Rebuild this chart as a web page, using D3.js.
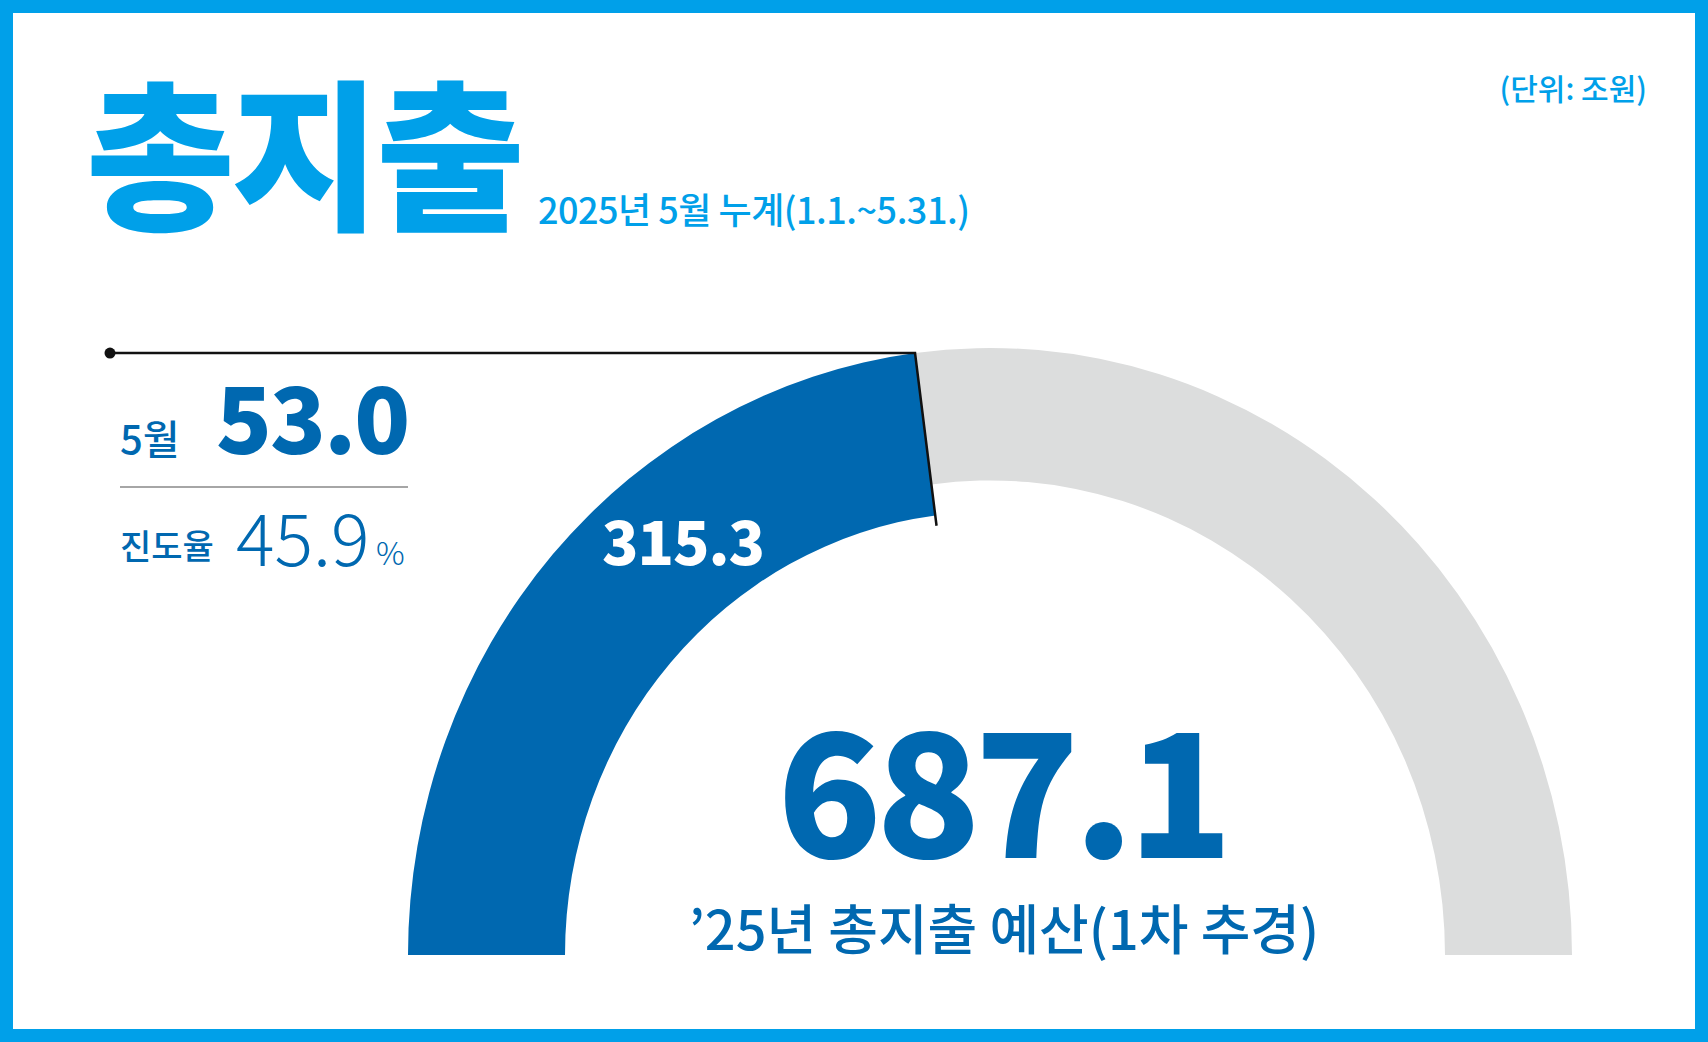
<!DOCTYPE html>
<html><head><meta charset="utf-8">
<script src="https://cdn.jsdelivr.net/npm/d3@7"></script>
<style>body{margin:0;background:#fff}svg{display:block}text{font-family:"Noto Sans CJK KR","Noto Sans",sans-serif}</style>
</head><body><svg id="c" width="1708" height="1042"></svg>
<script>
const title = "총지출";
const subtitle = "2025년 5월 누계(1.1.~5.31.)";
const unitLabel = "(단위: 조원)";
const monthLabel = "5월";
const monthValue = [53.0];
const progressLabel = "진도율";
const progressRate = [45.9];
const cumulative = [315.3];
const budget = [687.1];
const budgetLabel = "’25년 총지출 예산(1차 추경)";

const W=1708,H=1042, light="#00a0e9", dark="#0068b0", grey="#dcdddd";
const svg=d3.select("#c");
svg.append("rect").attr("x",6.5).attr("y",6.5).attr("width",W-13).attr("height",H-13)
  .attr("fill","none").attr("stroke",light).attr("stroke-width",13);

const cx=990, cy=955, R=582, rGrey=455, rBlue=425;
const ang=d3.scaleLinear().domain([0,budget[0]]).range([-Math.PI/2,Math.PI/2]);
const g=svg.append("g").attr("transform",`translate(${cx},${cy}) scale(1,1.043)`);
g.append("path").attr("d",d3.arc()({innerRadius:rGrey,outerRadius:R,startAngle:ang(cumulative[0]),endAngle:ang(budget[0])})).attr("fill",grey);
g.append("path").attr("d",d3.arc()({innerRadius:rBlue,outerRadius:R,startAngle:ang(0),endAngle:ang(cumulative[0])})).attr("fill",dark);

const a=ang(cumulative[0]);
const tx=cx+R*Math.sin(a), ty=cy-R*1.043*Math.cos(a);
const bx=cx+(rBlue-10)*Math.sin(a), by=cy-(rBlue-10)*1.043*Math.cos(a);
svg.append("path").attr("d",`M110,${ty}H${tx}L${bx},${by}`).attr("fill","none").attr("stroke","#111").attr("stroke-width",2.5);
svg.append("circle").attr("cx",110).attr("cy",ty).attr("r",5.5).attr("fill","#111");

const t=(x,y,s,txt,o={})=>svg.append("text").attr("x",x).attr("y",y).attr("font-size",s)
  .attr("fill",o.fill||dark).attr("font-weight",o.w||400).attr("text-anchor",o.a||"start")
  .attr("letter-spacing",o.ls||0).text(txt);

t(86,218,162,title,{fill:light,w:900,ls:-4});
t(538,224,36,subtitle,{fill:light,w:500,ls:-0.5});
t(1647,100,30,unitLabel,{fill:light,w:500,a:"end"});

t(120,454,40,monthLabel,{w:500});
t(216,454,92,monthValue[0].toFixed(1),{w:900,ls:-2});
svg.append("line").attr("x1",120).attr("x2",408).attr("y1",487).attr("y2",487).attr("stroke","#888").attr("stroke-width",1.5);
t(120,559,34,progressLabel,{w:500});
t(236,566,72,progressRate[0].toFixed(1),{w:200});
t(376,565,32,"%",{w:300});

t(683,565,60,cumulative[0].toFixed(1),{fill:"#fff",w:900,a:"middle",ls:-1});
t(1002,858,172,budget[0].toFixed(1),{w:900,a:"middle",ls:-6});
t(1004,950,54,budgetLabel,{w:500,a:"middle"});
</script></body></html>
